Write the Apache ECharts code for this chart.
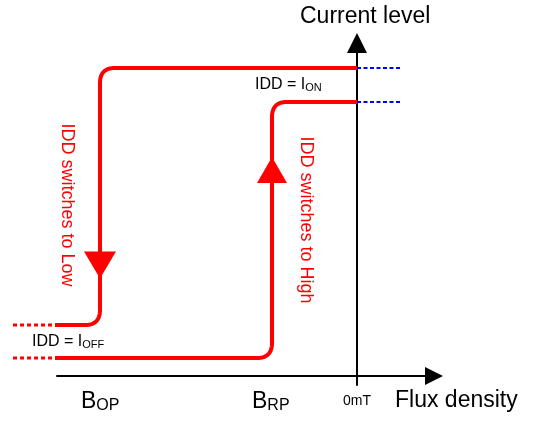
<!DOCTYPE html>
<html>
<head>
<meta charset="utf-8">
<script src="https://cdn.jsdelivr.net/npm/echarts@6/dist/echarts.min.js"></script>
<style>
html,body{margin:0;padding:0;background:#fff;}
#c{width:533px;height:421px;}
</style>
</head>
<body>
<div id="c"></div>
<script>
// ---- Data (schematic units, flux density on x, current level on y) ----
const xRange = [-30, 7.7];
const yRange = [-0.9, 33.3];
const xTicks = [-30, -20, -10, 0];
const xTickLabels = ['', '', '', '0mT'];

const switchLowX  = [0, -25.7, -25.7, -30.2];
const switchLowY  = [30.8, 30.8, 5.1, 5.1];
const switchHighX = [-30.2, -8.5, -8.5, 0];
const switchHighY = [1.8, 1.8, 27.4, 27.4];

const offDashX  = [-34.4, -30.2];
const offLevels = [5.1, 1.8];
const onDashX   = [0, 4.3];
const onLevels  = [30.8, 27.4];

const arrowDown = [-25.7, 11.1];
const arrowUp   = [-8.5, 20.6];

const FONT = '"Liberation Sans", Arial, Helvetica, sans-serif';
const RED = '#ff0000';
const BLUE = '#0000ff';

function roundedRender(xs, ys, radius) {
  return function (params, api) {
    if (params.dataIndex !== 0) return null;
    const pts = xs.map((x, i) => api.coord([x, ys[i]]));
    const out = [pts[0]];
    for (let i = 1; i < pts.length - 1; i++) {
      const p0 = pts[i - 1], p1 = pts[i], p2 = pts[i + 1];
      const l1 = Math.hypot(p1[0] - p0[0], p1[1] - p0[1]);
      const l2 = Math.hypot(p2[0] - p1[0], p2[1] - p1[1]);
      const r = Math.min(radius, l1 / 2, l2 / 2);
      const a = [p1[0] - (p1[0] - p0[0]) / l1 * r, p1[1] - (p1[1] - p0[1]) / l1 * r];
      const b = [p1[0] + (p2[0] - p1[0]) / l2 * r, p1[1] + (p2[1] - p1[1]) / l2 * r];
      for (let k = 0; k <= 16; k++) {
        const t = k / 16, u = 1 - t;
        out.push([u * u * a[0] + 2 * u * t * p1[0] + t * t * b[0],
                  u * u * a[1] + 2 * u * t * p1[1] + t * t * b[1]]);
      }
    }
    out.push(pts[pts.length - 1]);
    return {
      type: 'polyline',
      shape: { points: out },
      style: { stroke: RED, lineWidth: 4, fill: null, lineJoin: 'round' }
    };
  };
}

function dashSeries(xs, levels, color, width, dash) {
  return {
    type: 'custom', clip: false, silent: true,
    data: levels.map(y => [xs[0], xs[1], y]),
    renderItem: function (params, api) {
      const p1 = api.coord([api.value(0), api.value(2)]);
      const p2 = api.coord([api.value(1), api.value(2)]);
      return {
        type: 'line',
        shape: { x1: p1[0], y1: p1[1], x2: p2[0], y2: p2[1] },
        style: { stroke: color, lineWidth: width, lineDash: dash, fill: null }
      };
    }
  };
}

const chart = echarts.init(document.getElementById('c'), null, { renderer: 'canvas' });

chart.setOption({
  animation: false,
  backgroundColor: '#fff',
  grid: { left: 57, right: 99, top: 43, bottom: 36, containLabel: false, outerBoundsMode: 'none' },
  xAxis: {
    type: 'value', min: xRange[0], max: xRange[1], interval: 10,
    axisLine: { show: true, onZero: true, lineStyle: { color: '#000', width: 2 },
                symbol: ['none', 'triangle'], symbolSize: [18, 18] },
    axisTick: { show: false },
    splitLine: { show: false },
    axisLabel: {
      show: true, margin: 9, fontSize: 14, fontFamily: FONT, color: '#000',
      formatter: function (v) { const i = xTicks.indexOf(v); return i >= 0 ? xTickLabels[i] : ''; }
    }
  },
  yAxis: {
    type: 'value', min: yRange[0], max: yRange[1],
    axisLine: { show: true, onZero: true, lineStyle: { color: '#000', width: 2 },
                symbol: ['none', 'triangle'], symbolSize: [20, 20] },
    axisTick: { show: false },
    splitLine: { show: false },
    axisLabel: { show: false }
  },
  series: [
    dashSeries(offDashX, offLevels, RED, 3, [4, 3]),
    dashSeries(onDashX, onLevels, BLUE, 2, [4, 2.5]),
    {
      type: 'custom', clip: false, silent: true,
      renderItem: roundedRender(switchLowX, switchLowY, 15),
      data: switchLowX.map((x, i) => [x, switchLowY[i]])
    },
    {
      type: 'custom', clip: false, silent: true,
      renderItem: roundedRender(switchHighX, switchHighY, 15),
      data: switchHighX.map((x, i) => [x, switchHighY[i]])
    },
    {
      type: 'scatter', data: [arrowDown], symbol: 'triangle', symbolSize: [32, 27],
      symbolRotate: 180, itemStyle: { color: RED, opacity: 1 }, silent: true
    },
    {
      type: 'scatter', data: [arrowUp], symbol: 'triangle', symbolSize: [30, 26],
      itemStyle: { color: RED, opacity: 1 }, silent: true
    }
  ],
  graphic: [
    { type: 'text', x: 300, y: 17, style: { text: 'Current level', fontSize: 23, fontFamily: FONT, fill: '#000', verticalAlign: 'middle' } },
    { type: 'text', x: 395, y: 401, style: { text: 'Flux density', fontSize: 23, fontFamily: FONT, fill: '#000', verticalAlign: 'middle' } },
    { type: 'text', x: 32, y: 342, style: { text: 'IDD = I{s|OFF}', fontSize: 16, fontFamily: FONT, fill: '#000', verticalAlign: 'middle',
        rich: { s: { fontSize: 11, fontFamily: FONT, fill: '#000', verticalAlign: 'bottom' } } } },
    { type: 'text', x: 255, y: 85, style: { text: 'IDD = I{s|ON}', fontSize: 16, fontFamily: FONT, fill: '#000', verticalAlign: 'middle',
        rich: { s: { fontSize: 11, fontFamily: FONT, fill: '#000', verticalAlign: 'bottom' } } } },
    { type: 'text', x: 81, y: 402, style: { text: 'B{s|OP}', fontSize: 23, fontFamily: FONT, fill: '#000', verticalAlign: 'middle',
        rich: { s: { fontSize: 16, fontFamily: FONT, fill: '#000', verticalAlign: 'bottom' } } } },
    { type: 'text', x: 252, y: 402, style: { text: 'B{s|RP}', fontSize: 23, fontFamily: FONT, fill: '#000', verticalAlign: 'middle',
        rich: { s: { fontSize: 16, fontFamily: FONT, fill: '#000', verticalAlign: 'bottom' } } } },
    { type: 'text', x: 67, y: 205, rotation: -Math.PI / 2, style: { text: 'IDD switches to Low', fontSize: 18, fontFamily: FONT, fill: RED, align: 'center', verticalAlign: 'middle' } },
    { type: 'text', x: 306, y: 220, rotation: -Math.PI / 2, style: { text: 'IDD switches to High', fontSize: 18, fontFamily: FONT, fill: RED, align: 'center', verticalAlign: 'middle' } }
  ]
});
</script>
</body>
</html>
